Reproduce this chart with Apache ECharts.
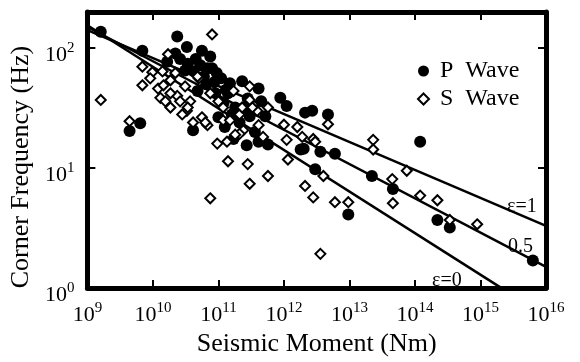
<!DOCTYPE html>
<html>
<head>
<meta charset="utf-8">
<script src="https://cdn.jsdelivr.net/npm/echarts@6/dist/echarts.min.js"></script>
<style>
  html, body { margin: 0; padding: 0; background: #fff; }
  #chart { width: 580px; height: 362px; }
</style>
</head>
<body>
<div id="chart"></div>
<script>
// axis ranges
const xRange = [1e9, 1e16]
const yRange = [1, 200]

// P wave corner frequencies [moment Nm, Hz]
const pWave = [
  [1.6e9, 137], [6.9e9, 95], [2.35e10, 125], [3.3e10, 102], [5.6e10, 95],
  [4.5e10, 81], [2.6e10, 81], [6.8e10, 68], [8.0e10, 68], [1.65e10, 77],
  [4.8e10, 44], [6.4e9, 23.7], [4.4e9, 20.4], [4.1e10, 20.7], [1.5e11, 51],
  [2.3e11, 53], [4.1e11, 46], [8.8e11, 38.5], [1.1e12, 33], [2.1e12, 29],
  [2.7e12, 30], [4.7e12, 28], [4.1e11, 16.6], [5.7e11, 15.7], [2.0e12, 14.5],
  [1.8e12, 14.3], [3.6e12, 13.7], [6.0e12, 13.2], [3.0e12, 9.8], [9.6e12, 4.1],
  [2.2e13, 8.6], [1.2e14, 16.6], [4.6e13, 6.7], [2.2e14, 3.7], [3.4e14, 3.2],
  [6.3e15, 1.7],
  [5.3e10, 72], [3.4e10, 74], [4.2e10, 64], [9.4e10, 62], [6.0e10, 58],
  [8.6e10, 52], [1.1e11, 56], [1.4e11, 42], [1.8e11, 32], [2.1e11, 24],
  [2.8e11, 38], [3.6e11, 20], [1.0e11, 26.5], [9.0e10, 42], [1.2e11, 35],
  [2.5e11, 32], [5.2e11, 27], [3.1e10, 65], [2.2e10, 90],
  [1.25e11, 22], [1.7e11, 17.5], [2.7e11, 15.5], [1.6e11, 28], [3.0e11, 27],
  [4.5e11, 36], [1.3e11, 45], [6.5e10, 50], [7.5e10, 85]
]

// S wave corner frequencies [moment Nm, Hz]
const sWave = [
  [1.6e9, 37], [6.9e9, 49], [4.4e9, 24.6], [8.0e10, 130], [1.7e10, 89],
  [6.9e9, 70], [9.8e9, 63], [1.4e10, 64], [1.2e10, 46], [1.85e10, 54],
  [1.3e10, 38.5], [2.35e10, 40], [3.7e10, 36], [5.0e10, 56], [3.3e10, 30],
  [5.6e10, 26.5], [6.8e10, 22.8], [1.7e11, 44], [3.0e11, 48], [2.1e11, 28],
  [1.18e11, 25], [2.4e11, 20.7], [9.6e10, 16], [3.0e11, 37], [3.9e11, 30],
  [4.8e10, 58], [6.3e10, 24], [1.18e11, 32], [1.5e11, 25], [2.3e11, 32],
  [2.1e11, 19.3], [3.3e11, 32], [4.1e11, 22.8], [4.8e11, 18.2], [5.7e11, 32],
  [1.1e12, 17.2], [1.9e12, 18.2], [2.8e12, 17.5], [4.7e12, 23.2], [2.3e13, 17.2],
  [1.35e11, 16.6], [1.4e11, 11.4], [2.8e11, 10.8], [3.0e11, 7.4], [5.7e11, 8.6],
  [7.5e10, 5.6], [1.15e12, 11.8], [2.1e12, 7.1], [2.8e12, 5.7], [6.0e12, 5.2],
  [9.6e12, 5.2], [3.6e12, 1.93], [3.0e12, 16.6], [4.0e12, 8.6], [2.3e13, 14.3],
  [7.5e13, 9.5], [4.5e13, 8.1], [4.6e13, 5.1], [1.2e14, 5.9], [2.2e14, 5.4],
  [3.4e14, 3.7], [8.9e14, 3.4],
  [9.1e9, 56], [1.45e10, 49], [1.85e10, 42], [2.6e10, 36], [3.4e10, 32],
  [1.85e10, 32], [2.8e10, 28], [1.55e10, 36], [4.1e10, 24], [2.2e10, 62],
  [3.1e10, 48], [7.5e10, 42], [1.0e11, 36], [1.8e11, 19], [1.0e12, 23],
  [1.6e12, 22]
]

// model curves for epsilon = 1, 0.5, 0
const eps1Line = [[1e9, 141], [1e16, 3.3]]
const eps05Line = [[1e9, 150], [1e16, 1.5]]
const eps0Line = [[1e9, 155], [2.1e15, 1]]

const serif = 'Liberation Serif'

const powLabel = (v) => '{b|10}{s|' + Math.round(Math.log10(v)) + '}'
const labelRich = {
  b: { fontFamily: serif, fontSize: 22, color: '#000', lineHeight: 26, verticalAlign: 'bottom' },
  s: { fontFamily: serif, fontSize: 15, color: '#000', lineHeight: 15, verticalAlign: 'top' }
}

const frameLine = { show: true, lineStyle: { color: '#000', width: 5 } }
const frameTick = { show: true, inside: true, length: 8, lineStyle: { color: '#000', width: 2 } }

const chart = echarts.init(document.getElementById('chart'))

chart.setOption({
  animation: false,
  grid: { left: 87, right: 34, top: 12, bottom: 67 },
  legend: {
    orient: 'vertical',
    left: 412,
    top: 54,
    itemWidth: 11,
    itemHeight: 11,
    itemGap: 4,
    textStyle: { fontFamily: serif, fontSize: 24, color: '#000', lineHeight: 24, padding: [0, 0, 0, 6] },
    data: ['P  Wave', 'S  Wave']
  },
  xAxis: [
    {
      type: 'log', logBase: 10, min: xRange[0], max: xRange[1], splitNumber: 7,
      name: 'Seismic Moment (Nm)', nameLocation: 'middle', nameGap: 38,
      nameTextStyle: { fontFamily: serif, fontSize: 26, color: '#000' },
      axisLine: frameLine, axisTick: frameTick, splitLine: { show: false }, minorTick: { show: false },
      axisLabel: { margin: 12, formatter: powLabel, rich: labelRich }
    },
    {
      type: 'log', logBase: 10, min: xRange[0], max: xRange[1], splitNumber: 7, position: 'top',
      axisLine: frameLine, axisTick: frameTick, splitLine: { show: false }, axisLabel: { show: false }
    }
  ],
  yAxis: [
    {
      type: 'log', logBase: 10, min: yRange[0], max: yRange[1],
      name: 'Corner Frequency (Hz)', nameLocation: 'middle', nameGap: 48,
      nameTextStyle: { fontFamily: serif, fontSize: 26, color: '#000', padding: [0, 34, 0, 0] },
      axisLine: frameLine, axisTick: frameTick, splitLine: { show: false }, minorTick: { show: false },
      axisLabel: { margin: 13, formatter: powLabel, rich: labelRich, showMaxLabel: false, padding: [10, 0, 0, 0] }
    },
    {
      type: 'log', logBase: 10, min: yRange[0], max: yRange[1], position: 'right',
      axisLine: frameLine, axisTick: frameTick, splitLine: { show: false }, axisLabel: { show: false }
    }
  ],
  graphic: [
    { type: 'text', left: 507, top: 197, style: { text: 'ε=1', fontFamily: serif, fontSize: 20, fill: '#000' } },
    { type: 'text', left: 508, top: 237, style: { text: '0.5', fontFamily: serif, fontSize: 20, fill: '#000' } },
    { type: 'text', left: 432, top: 271, style: { text: 'ε=0', fontFamily: serif, fontSize: 20, fill: '#000' } }
  ],
  series: [
    { type: 'line', data: eps1Line, symbol: 'none', silent: true, lineStyle: { color: '#000', width: 2.5 }, z: 1 },
    { type: 'line', data: eps05Line, symbol: 'none', silent: true, lineStyle: { color: '#000', width: 2.5 }, z: 1 },
    { type: 'line', data: eps0Line, symbol: 'none', silent: true, lineStyle: { color: '#000', width: 2.5 }, z: 1 },
    {
      name: 'P  Wave', type: 'scatter', data: pWave, symbol: 'circle', symbolSize: 12,
      itemStyle: { color: '#000', opacity: 1 }, z: 2
    },
    {
      name: 'S  Wave', type: 'scatter', data: sWave, symbol: 'diamond', symbolSize: 10,
      itemStyle: { color: '#fff', borderColor: '#000', borderWidth: 2, opacity: 1 }, z: 3
    }
  ]
})
</script>
</body>
</html>
